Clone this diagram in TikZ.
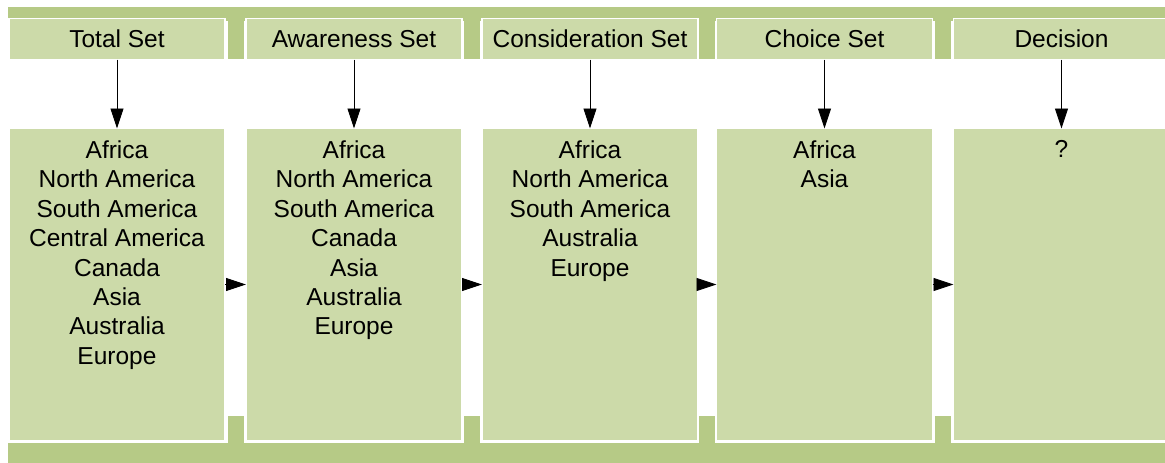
\documentclass[tikz,border=0pt]{standalone}
\usepackage{fontspec}
\setmainfont{Liberation Sans}
\usetikzlibrary{arrows.meta}
\definecolor{lightg}{HTML}{CCDAA9}
\definecolor{darkg}{HTML}{B6CA86}
\begin{document}
\begin{tikzpicture}[x=1pt,y=-1pt,
  hdr/.style={fill=lightg,draw=white,line width=1.5pt,inner sep=0pt,outer sep=0pt,
    minimum width=216pt,minimum height=41pt,anchor=north west,
    font=\fontsize{24.5}{29.4}\selectfont},
  mainbox/.style={fill=lightg,draw=white,line width=1.5pt,inner sep=0pt,outer sep=0pt,
    minimum width=216pt,minimum height=313pt,anchor=north west},
  items/.style={anchor=north,align=center,inner sep=0pt,
    font=\fontsize{24.5}{29.4}\selectfont},
  arr/.style={-{Triangle[length=20pt,width=13pt]},line width=0.9pt,black}]
\useasboundingbox (0,0) rectangle (1165,463);
% background bars and posts
\fill[darkg] (8,7) rectangle (1170,21);
\fill[darkg] (8,443) rectangle (1170,463);
\foreach \px in {227.5,464,699,935}{
  \fill[darkg] (\px,7) rectangle ++(16,51.5);
  \fill[darkg] (\px,416) rectangle ++(16,30);
}
% headers
\node[hdr] (h1) at (9,18.5)   {Total Set};
\node[hdr] (h2) at (246,18.5) {Awareness Set};
\node[hdr] (h3) at (482,18.5) {Consideration Set};
\node[hdr] (h4) at (716.5,18.5) {Choice Set};
\node[hdr] (h5) at (953.5,18.5) {Decision};
% main boxes
\node[mainbox] (m1) at (9,128) {};
\node[mainbox] (m2) at (246,128) {};
\node[mainbox] (m3) at (482,128) {};
\node[mainbox] (m4) at (716.5,128) {};
\node[mainbox] (m5) at (953.5,128) {};
% lists
\node[items] (t1) at (m1.north |- 0,140.5) {Africa\\North America\\South America\\Central America\\Canada\\Asia\\Australia\\Europe};
\node[items] (t2) at (m2.north |- 0,140.5) {Africa\\North America\\South America\\Canada\\Asia\\Australia\\Europe};
\node[items] (t3) at (m3.north |- 0,140.5) {Africa\\North America\\South America\\Australia\\Europe};
\node[items] (t4) at (m4.north |- 0,140.5) {Africa\\Asia};
\node[items] (t5) at (m5.north |- 0,140.5) {?};
% arrows
\foreach \i in {1,...,5}{ \draw[arr] (h\i.south) -- (m\i.north |- 0,128.5); }
\draw[arr] (m1.east) -- (m2.west);
\draw[arr] (m2.east) -- (m3.west);
\draw[arr] (m3.east) -- (m4.west);
\draw[arr] (m4.east) -- (m5.west);
\end{tikzpicture}
\end{document}
